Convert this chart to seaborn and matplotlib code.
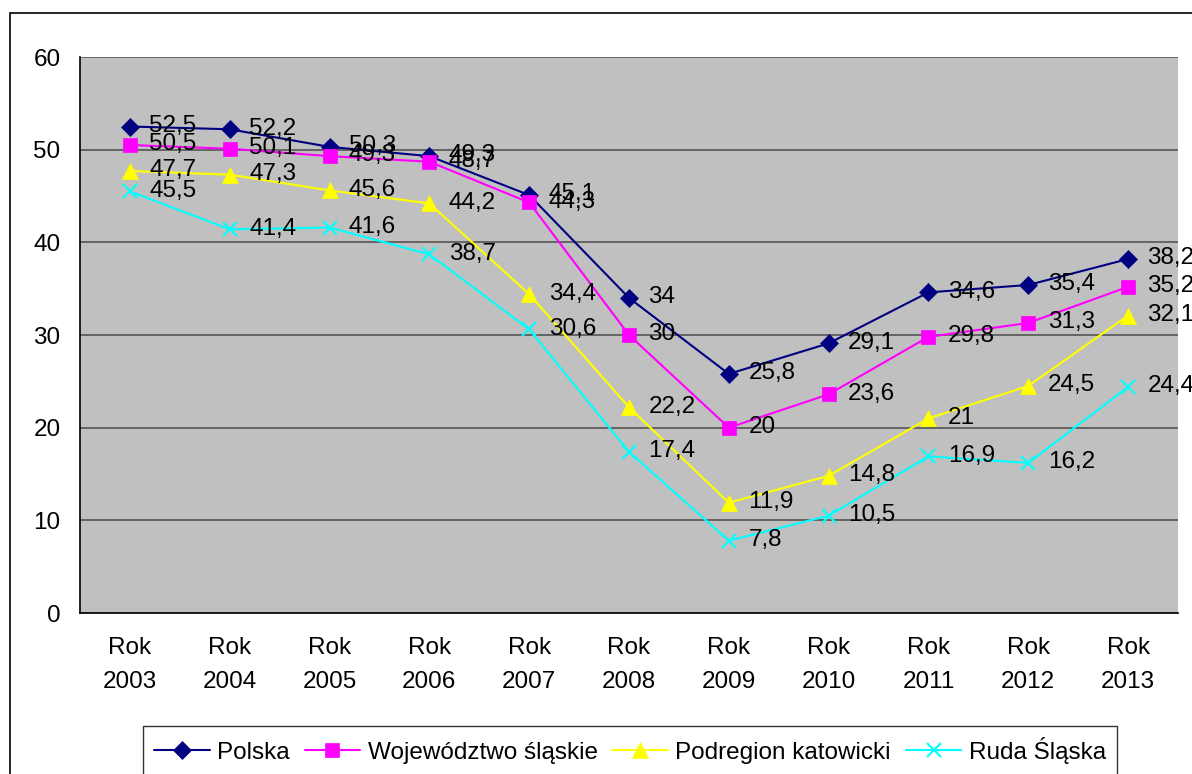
import matplotlib
matplotlib.use("Agg")
import matplotlib.pyplot as plt
import seaborn as sns
import pandas as pd
import numpy as np
from matplotlib.patches import Rectangle

years = ["2003", "2004", "2005", "2006", "2007", "2008", "2009", "2010", "2011", "2012", "2013"]
tick_labels = ["Rok\n" + y for y in years]
polska = [52.5, 52.2, 50.3, 49.3, 45.1, 34, 25.8, 29.1, 34.6, 35.4, 38.2]
slaskie = [50.5, 50.1, 49.3, 48.7, 44.3, 30, 20, 23.6, 29.8, 31.3, 35.2]
katowicki = [47.7, 47.3, 45.6, 44.2, 34.4, 22.2, 11.9, 14.8, 21, 24.5, 32.1]
ruda = [45.5, 41.4, 41.6, 38.7, 30.6, 17.4, 7.8, 10.5, 16.9, 16.2, 24.4]
series_names = ["Polska", "Województwo śląskie", "Podregion katowicki", "Ruda Śląska"]
series_vals = [polska, slaskie, katowicki, ruda]
colors = ["#000080", "#FF00FF", "#FFFF00", "#00FFFF"]
markers = ["D", "s", "^", "x"]
msizes = [9, 10, 11, 10]

FS = 17.5

sns.set_style("white")
plt.rcParams["font.family"] = ["Liberation Sans", "DejaVu Sans"]
plt.rcParams["text.color"] = "black"
plt.rcParams["xtick.labelcolor"] = "black"
plt.rcParams["ytick.labelcolor"] = "black"

W, H = 1192, 774
fig = plt.figure(figsize=(W / 100, H / 100), dpi=100)
# outer chart border
fig.add_artist(Rectangle((10 / W, -0.01), (W + 20) / W, (H - 13) / H + 0.01,
                         transform=fig.transFigure, fill=False, edgecolor="black", lw=1.2))

ax = fig.add_axes([80 / W, 1 - 613 / H, 1098 / W, 556 / H])
ax.set_facecolor("#C0C0C0")

rows = []
for name, vals in zip(series_names, series_vals):
    for i, v in enumerate(vals):
        rows.append({"x": i, "y": v, "series": name})
df = pd.DataFrame(rows)

for name, col, mk, ms in zip(series_names, colors, markers, msizes):
    sub = df[df["series"] == name]
    sns.lineplot(data=sub, x="x", y="y", ax=ax, color=col, marker=mk, markersize=ms,
                 markeredgecolor=col, markerfacecolor=col, markeredgewidth=1.5 if mk == "x" else 0.5,
                 lw=1.5, label=name, legend=False)
    for xi, v in zip(sub["x"], sub["y"]):
        txt = (f"{v:g}").replace(".", ",")
        ax.annotate(txt, (xi, v), xytext=(14, 0.5), textcoords="offset points",
                    va="center", ha="left", fontsize=FS, color="black", annotation_clip=False)

ax.set_xlim(-0.5, 10.5)
ax.set_ylim(0, 60)
ax.set_yticks(np.arange(0, 61, 10))
ax.yaxis.grid(True, color="#555555", lw=1.2)
ax.set_axisbelow(True)
ax.set_xticks(np.arange(-0.5, 10.6, 1))
ax.set_xticklabels([])
ax.set_xticks(np.arange(0, 11), minor=True)
ax.set_xticklabels(tick_labels, minor=True, fontsize=FS, linespacing=1.75, color="black")
ax.tick_params(axis="x", which="major", length=6, direction="out", color="black", width=1)
ax.tick_params(axis="x", which="minor", length=0, pad=17)
ax.tick_params(axis="y", length=6, direction="out", color="#555555", width=1.2, labelsize=FS,
               pad=8, labelcolor="black")
ax.set_xlabel("")
ax.set_ylabel("")
for s in ["top", "right"]:
    ax.spines[s].set_visible(False)
for s in ["left", "bottom"]:
    ax.spines[s].set_color("black")
    ax.spines[s].set_linewidth(1.2)

handles, labels = ax.get_legend_handles_labels()
leg = fig.legend(handles, labels, loc="center", bbox_to_anchor=(630 / W, 1 - 750.5 / H), ncol=4,
                 frameon=True, fancybox=False, edgecolor="black", fontsize=FS,
                 handlelength=2.3, handletextpad=0.3, columnspacing=0.6, borderpad=0.45,
                 borderaxespad=0)
leg.get_frame().set_linewidth(1)
for t in leg.get_texts():
    t.set_color("black")

fig.savefig("out.png", dpi=100)
